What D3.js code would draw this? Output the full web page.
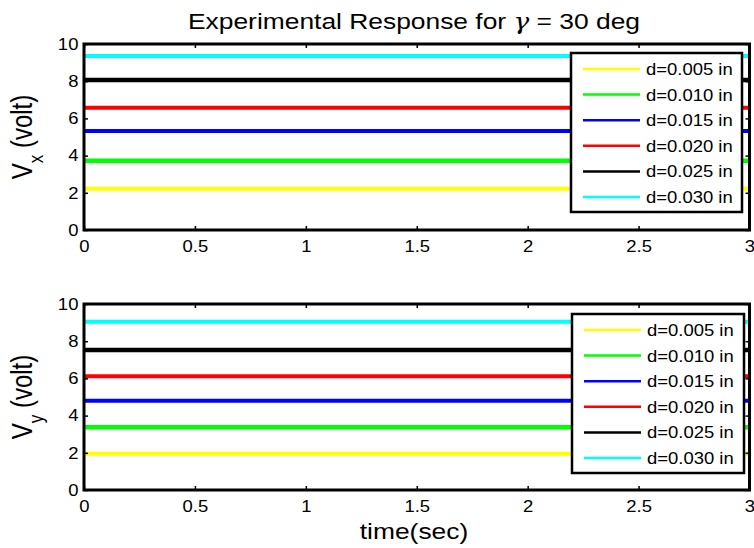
<!DOCTYPE html>
<html>
<head>
<meta charset="utf-8">
<script src="https://cdn.jsdelivr.net/npm/d3@7"></script>
<style>
  body { margin: 0; background: #fff; }
  svg text { font-family: 'Liberation Sans', Arial, Helvetica, sans-serif; fill: #000; }
</style>
</head>
<body>
<div id="figure"></div>
<script>
// recording window (sec) and axis ticks
const timeSpan = [0, 3]
const xTicks = [0, 0.5, 1, 1.5, 2, 2.5, 3]
const yTicks = [0, 2, 4, 6, 8, 10]

// one trace per gap size
const gapLabels = ['d=0.005 in', 'd=0.010 in', 'd=0.015 in', 'd=0.020 in', 'd=0.025 in', 'd=0.030 in']
const traceColors = ['#ffff00', '#00ff00', '#0000ff', '#ff0000', '#000000', '#00ffff']

// mean output level of each trace (volt)
const vxLevels = [2.22, 3.72, 5.32, 6.57, 8.06, 9.35]
const vyLevels = [1.95, 3.38, 4.80, 6.11, 7.53, 9.05]

const figW = 754
const figH = 548
const stretch = 1.12 // the original figure is a bit wider than tall

const svg = d3.select('#figure')
  .append('svg')
  .attr('width', figW)
  .attr('height', figH)

const x = d3.scaleLinear().domain([0, 3]).range([84, 749.5])

function drawPanel (levels, sub, top, bottom, legendY, legendX, legendW, legendH) {
  const y = d3.scaleLinear().domain([0, 10]).range([bottom, top])
  const g = svg.append('g')

  const line = d3.line()
    .x(d => x(d[0]))
    .y(d => y(d[1]))

  // traces
  levels.forEach(function (v, i) {
    g.append('path')
      .datum(timeSpan.map(t => [t, v]))
      .attr('d', line)
      .attr('fill', 'none')
      .attr('stroke', traceColors[i])
      .attr('stroke-width', (i === 1 || i === 4) ? 4.5 : 4)
  })

  // ticks on all four sides, pointing in
  const axB = g.append('g')
    .attr('transform', 'translate(0,' + bottom + ')')
    .call(d3.axisBottom(x).tickValues(xTicks).tickSize(-4).tickPadding(10).tickFormat(d => String(d)))
  const axT = g.append('g')
    .attr('transform', 'translate(0,' + top + ')')
    .call(d3.axisTop(x).tickValues(xTicks).tickSize(-4).tickFormat(''))
  const axL = g.append('g')
    .attr('transform', 'translate(' + x.range()[0] + ',0)')
    .call(d3.axisLeft(y).tickValues(yTicks).tickSize(-4).tickPadding(5).tickFormat(d => String(d)))
  const axR = g.append('g')
    .attr('transform', 'translate(' + x.range()[1] + ',0)')
    .call(d3.axisRight(y).tickValues(yTicks).tickSize(-4).tickFormat(''))

  ;[axB, axT, axL, axR].forEach(function (ax) {
    ax.select('.domain').remove()
    ax.selectAll('line').attr('stroke', '#000').attr('stroke-width', 1.5)
    ax.selectAll('text')
      .attr('font-size', 16.5)
      .attr('font-family', "'Liberation Sans', Arial, sans-serif")
      .attr('fill', '#000')
      .attr('transform', 'scale(' + stretch + ',1)')
  })

  // axes box
  g.append('rect')
    .attr('x', x.range()[0])
    .attr('y', top)
    .attr('width', x.range()[1] - x.range()[0])
    .attr('height', bottom - top)
    .attr('fill', 'none')
    .attr('stroke', '#000')
    .attr('stroke-width', 3)

  // y label, V with subscript
  const yl = g.append('text')
    .attr('transform', 'translate(32,' + (top + bottom) / 2 + ') rotate(-90) scale(1,1.2)')
    .attr('text-anchor', 'middle')
    .attr('font-size', 24)
  yl.append('tspan').text('V')
  yl.append('tspan').attr('font-size', 17).attr('dy', 9).text(sub)
  yl.append('tspan').attr('dy', -9).text(' (volt)')

  // legend
  const lg = g.append('g').attr('transform', 'translate(' + legendX + ',' + legendY + ')')
  lg.append('rect')
    .attr('width', legendW)
    .attr('height', legendH)
    .attr('fill', '#fff')
    .attr('stroke', '#000')
    .attr('stroke-width', 2.5)
  const rowH = (legendH - 31) / 5
  gapLabels.forEach(function (label, i) {
    const ry = 16 + i * rowH
    lg.append('line')
      .attr('x1', 12)
      .attr('x2', 69)
      .attr('y1', ry)
      .attr('y2', ry)
      .attr('stroke', traceColors[i])
      .attr('stroke-width', 2.5)
    lg.append('text')
      .attr('transform', 'translate(75,' + ry + ') scale(' + stretch + ',1)')
      .attr('dy', '0.36em')
      .attr('font-size', 16.5)
      .text(label)
  })
}

drawPanel(vxLevels, 'x', 44, 230, 53, 571, 171, 159)
drawPanel(vyLevels, 'y', 304, 490, 314, 572, 172, 159)

// title
const title = svg.append('text')
  .attr('transform', 'translate(414,29) scale(1.2,1)')
  .attr('text-anchor', 'middle')
  .attr('font-size', 22)
title.append('tspan').text('Experimental Response for  ')
title.append('tspan').attr('font-family', "'DejaVu Serif', serif").attr('font-style', 'italic').text('γ')
title.append('tspan').text(' = 30 deg')

// x label
svg.append('text')
  .attr('transform', 'translate(414,539) scale(1.2,1)')
  .attr('text-anchor', 'middle')
  .attr('font-size', 22)
  .text('time(sec)')
</script>
</body>
</html>
